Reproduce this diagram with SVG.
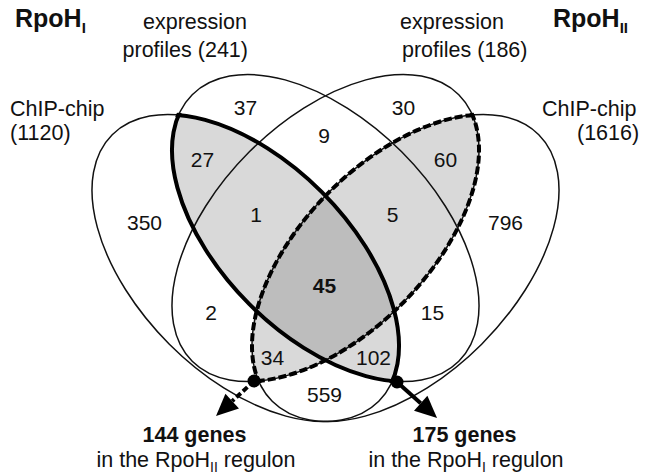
<svg xmlns="http://www.w3.org/2000/svg" width="651" height="476" viewBox="0 0 651 476">
<style>
text{font-family:"Liberation Sans",Arial,sans-serif;fill:#111;}
.lbl{font-size:21.5px;}
.num{font-size:21px;text-anchor:middle;}
.ttl{font-size:25px;font-weight:bold;}
.bold{font-weight:bold;}
.thin{fill:none;stroke:#111;stroke-width:1.5;}
.thick{fill:none;stroke:#000;stroke-width:4;}
.dash{fill:none;stroke:#000;stroke-width:4;stroke-dasharray:8 3;}
.lt{fill:#d9d9d9;}
.dk{fill:#bdbdbd;}
</style>
<defs>
<clipPath id="cA"><ellipse cx="245.5" cy="268" rx="188.5" ry="107.7" transform="rotate(45 245.5 268)"/></clipPath>
<clipPath id="cB"><ellipse cx="325.5" cy="228" rx="188.5" ry="107.7" transform="rotate(45 325.5 228)"/></clipPath>
<clipPath id="cC"><ellipse cx="325.5" cy="228" rx="188.5" ry="107.7" transform="rotate(-45 325.5 228)"/></clipPath>
<clipPath id="cD"><ellipse cx="405.5" cy="268" rx="188.5" ry="107.7" transform="rotate(-45 405.5 268)"/></clipPath>
<clipPath id="cAx"><ellipse cx="245.5" cy="268" rx="191" ry="110.2" transform="rotate(45 245.5 268)"/></clipPath>
<clipPath id="cBx"><ellipse cx="325.5" cy="228" rx="191" ry="110.2" transform="rotate(45 325.5 228)"/></clipPath>
<clipPath id="cCx"><ellipse cx="325.5" cy="228" rx="191" ry="110.2" transform="rotate(-45 325.5 228)"/></clipPath>
<clipPath id="cDx"><ellipse cx="405.5" cy="268" rx="191" ry="110.2" transform="rotate(-45 405.5 268)"/></clipPath>
<marker id="ah" markerUnits="userSpaceOnUse" markerWidth="24" markerHeight="22" refX="0" refY="10" orient="auto" overflow="visible">
<path d="M0,0 L22,10 L0,20 z" fill="#000"/>
</marker>
</defs>
<rect width="651" height="476" fill="#fff"/>

<g id="shading">
<g clip-path="url(#cB)"><ellipse class="lt" cx="245.5" cy="268" rx="188.5" ry="107.7" transform="rotate(45 245.5 268)"/></g>
<g clip-path="url(#cD)"><ellipse class="lt" cx="325.5" cy="228" rx="188.5" ry="107.7" transform="rotate(-45 325.5 228)"/></g>
<g clip-path="url(#cA)"><g clip-path="url(#cB)"><g clip-path="url(#cC)"><ellipse class="dk" cx="405.5" cy="268" rx="188.5" ry="107.7" transform="rotate(-45 405.5 268)"/></g></g></g>
</g>

<g id="chip-I">
<ellipse class="thin" cx="245.5" cy="268" rx="188.5" ry="107.7" transform="rotate(45 245.5 268)"/>
<text class="lbl" x="10" y="115.5">ChIP-chip</text>
<text class="lbl" x="10" y="139.5">(1120)</text>
</g>
<g id="expr-I">
<ellipse class="thin" cx="325.5" cy="228" rx="188.5" ry="107.7" transform="rotate(45 325.5 228)"/>
<text class="lbl" x="247" y="29" text-anchor="end">expression</text>
<text class="lbl" x="248" y="57" text-anchor="end">profiles (241)</text>
</g>
<g id="expr-II">
<ellipse class="thin" cx="325.5" cy="228" rx="188.5" ry="107.7" transform="rotate(-45 325.5 228)"/>
<text class="lbl" x="400" y="29">expression</text>
<text class="lbl" x="402" y="57">profiles (186)</text>
</g>
<g id="chip-II">
<ellipse class="thin" cx="405.5" cy="268" rx="188.5" ry="107.7" transform="rotate(-45 405.5 268)"/>
<text class="lbl" x="542" y="115.5">ChIP-chip</text>
<text class="lbl" x="577" y="139.5">(1616)</text>
</g>

<g id="regulon-I-outline">
<g clip-path="url(#cBx)"><ellipse class="thick" cx="245.5" cy="268" rx="188.5" ry="107.7" transform="rotate(45 245.5 268)"/></g>
<g clip-path="url(#cAx)"><ellipse class="thick" cx="325.5" cy="228" rx="188.5" ry="107.7" transform="rotate(45 325.5 228)"/></g>
</g>
<g id="regulon-II-outline">
<g clip-path="url(#cCx)"><ellipse class="dash" cx="405.5" cy="268" rx="188.5" ry="107.7" transform="rotate(-45 405.5 268)"/></g>
<g clip-path="url(#cDx)"><ellipse class="dash" cx="325.5" cy="228" rx="188.5" ry="107.7" transform="rotate(-45 325.5 228)"/></g>
</g>

<g id="counts">
<text class="num" x="245.5" y="115">37</text>
<text class="num" x="403.5" y="115">30</text>
<text class="num" x="324" y="143">9</text>
<text class="num" x="202.5" y="167">27</text>
<text class="num" x="445.5" y="167">60</text>
<text class="num" x="256" y="222">1</text>
<text class="num" x="392.5" y="222">5</text>
<text class="num" x="144.5" y="230">350</text>
<text class="num" x="505.5" y="230">796</text>
<text class="num bold" x="324.5" y="293">45</text>
<text class="num" x="211" y="320">2</text>
<text class="num" x="432.5" y="320">15</text>
<text class="num" x="272.5" y="365">34</text>
<text class="num" x="373.5" y="365">102</text>
<text class="num" x="324.5" y="402">559</text>
</g>

<g id="connectors">
<line x1="397" y1="382" x2="420.7" y2="403.3" stroke="#000" stroke-width="4" marker-end="url(#ah)"/>
<line x1="254" y1="381" x2="232.2" y2="401.1" stroke="#000" stroke-width="4" stroke-dasharray="6 3" marker-end="url(#ah)"/>
<circle cx="397" cy="382" r="6.5" fill="#000"/>
<circle cx="254" cy="381" r="6.5" fill="#000"/>
</g>

<g id="title-I"><text class="ttl" x="15" y="27">RpoH<tspan font-size="15" dy="6">I</tspan></text></g>
<g id="title-II"><text class="ttl" x="553" y="27">RpoH<tspan font-size="15" dy="6">II</tspan></text></g>

<g id="result-II">
<text class="lbl bold" x="194.5" y="442" text-anchor="middle">144 genes</text>
<text class="lbl" x="196" y="467" text-anchor="middle">in the RpoH<tspan font-size="14" dy="5">II</tspan><tspan dy="-5"> regulon</tspan></text>
</g>
<g id="result-I">
<text class="lbl bold" x="464.5" y="442" text-anchor="middle">175 genes</text>
<text class="lbl" x="466" y="467" text-anchor="middle">in the RpoH<tspan font-size="14" dy="5">I</tspan><tspan dy="-5"> regulon</tspan></text>
</g>
</svg>
